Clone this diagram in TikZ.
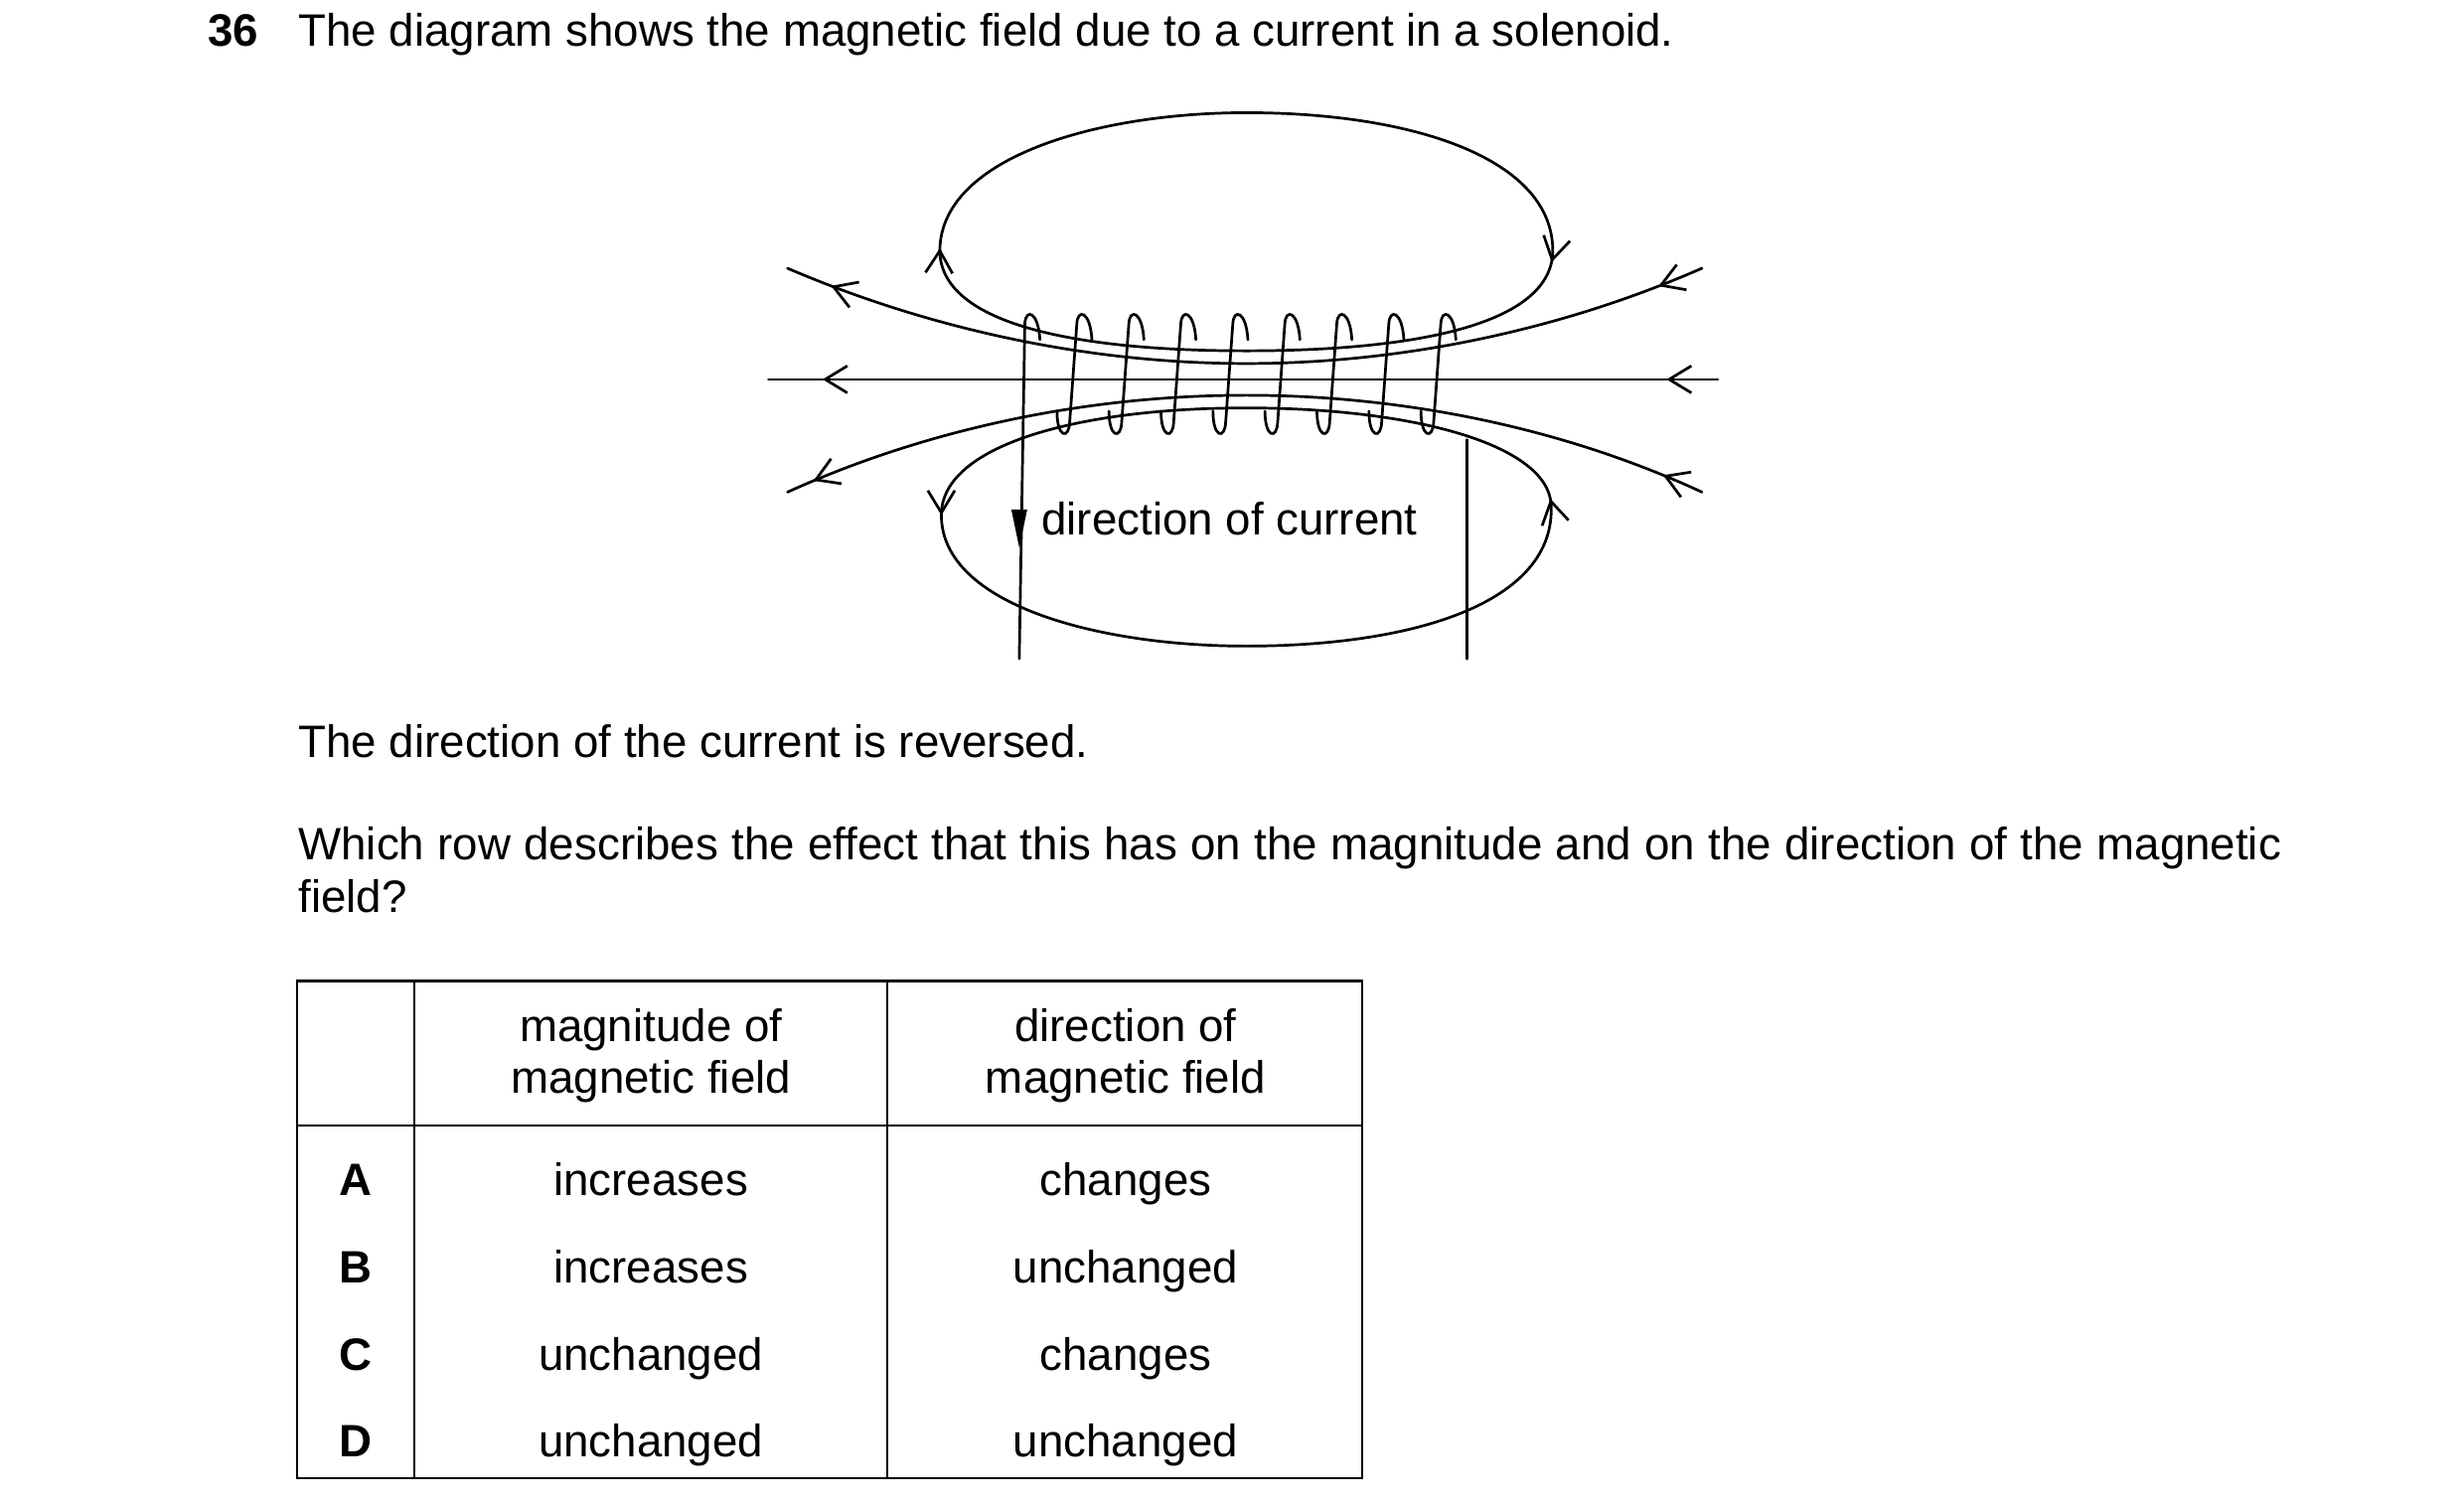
\documentclass[tikz,border=0pt]{standalone}
\usepackage{fontspec}
\setmainfont{Liberation Sans}
\usetikzlibrary{arrows.meta,decorations.markings}
\begin{document}
\begin{tikzpicture}[x=0.5pt,y=-0.5pt,
  every node/.style={inner sep=0pt,outer sep=0pt,font=\fontsize{14.3}{16.5}\selectfont},
  txt/.style={anchor=base west},
  ctr/.style={anchor=base},
  line/.style={line width=0.85pt,line cap=round},
  fwd/.style 2 args={postaction={decorate,decoration={markings,
     mark=at position #1 with {\arrow{Straight Barb[length=7pt,width=8.5pt,line width=0.85pt]}},
     mark=at position #2 with {\arrow{Straight Barb[length=7pt,width=8.5pt,line width=0.85pt]}}}}},
  rev/.style 2 args={postaction={decorate,decoration={markings,
     mark=at position #1 with {\arrowreversed{Straight Barb[length=7pt,width=8.5pt,line width=0.85pt]}},
     mark=at position #2 with {\arrowreversed{Straight Barb[length=7pt,width=8.5pt,line width=0.85pt]}}}}},
  grid/.style={line width=0.7pt}]
\useasboundingbox (0,0) rectangle (1552,947);
% texts
\node[txt,font=\fontsize{14.3}{16.5}\selectfont\bfseries] (n36) at (131,29) {36};
\node[txt] (q) at (188,29) {The diagram shows the magnetic field due to a current in a solenoid.};
\node[txt] (rev) at (188,477) {The direction of the current is reversed.};
\node[anchor=north west,text width=624.5pt,align=justify,font=\fontsize{14.3}{16.5}\selectfont] (which) at (188,521)
  {Which row describes the effect that this has on the magnitude and on the direction of the magnetic field?};
% field lines
\draw[line,rev={0.057}{0.946}] (484,239) coordinate (axL) -- (1082,239) coordinate (axR);
\draw[line,rev={0.05}{0.95}] (496,169) .. controls (580,205) and (680,229) .. (785,229) .. controls (890,229) and (990,205) .. (1072,169);
\draw[line,rev={0.03}{0.955}] (496,310) .. controls (580,272) and (680,249) .. (785,249) .. controls (890,249) and (990,272) .. (1072,310);
\draw[line,fwd={0.245}{0.765}] (785,221) .. controls (680,221) and (595,205) .. (592,160) .. controls (590,100) and (690,71) .. (785,71) .. controls (890,71) and (980,100) .. (978,160) .. controls (975,205) and (890,221) .. (785,221);
\draw[line,fwd={0.245}{0.765}] (785,257) .. controls (680,257) and (596,280) .. (593,322) .. controls (590,380) and (690,407) .. (785,407) .. controls (890,407) and (980,380) .. (977,318) .. controls (975,280) and (890,257) .. (785,257);
% coil
\draw[line] (655,214) .. controls (654,196) and (646,194) .. (645.5,204) -- (642,415);
\foreach \i in {1,...,8}{
  \pgfmathsetmacro{\x}{644+\i*32.75}
  \draw[line] (\x+11,214) .. controls (\x+10,196) and (\x+2,194) .. (\x+1.5,204) -- (\x-3,266) .. controls (\x-3.5,277) and (\x-11,276) .. (\x-11,259);
}
\draw[line] (924,277) -- (924,415);
\fill (637,321) -- (647,321) -- (642,345) -- cycle;
\node[txt] (doc) at (656,337) {direction of current};
% table
\draw[grid] (187,618) rectangle (858,931);
\draw[grid] (187,709) -- (858,709);
\draw[grid] (261,618) -- (261,931);
\draw[grid] (559,618) -- (559,931);
\node[ctr] (h1a) at (410,656) {magnitude of};
\node[ctr] (h1b) at (410,689) {magnetic field};
\node[ctr] (h2a) at (709,656) {direction of};
\node[ctr] (h2b) at (709,689) {magnetic field};
\foreach \l/\m/\d/\y in {A/increases/changes/753,B/increases/unchanged/808,C/unchanged/changes/863,D/unchanged/unchanged/918}{
  \node[ctr,font=\fontsize{14.3}{16.5}\selectfont\bfseries] at (224,\y) {\l};
  \node[ctr] at (410,\y) {\m};
  \node[ctr] at (709,\y) {\d};
}
\end{tikzpicture}
\end{document}
